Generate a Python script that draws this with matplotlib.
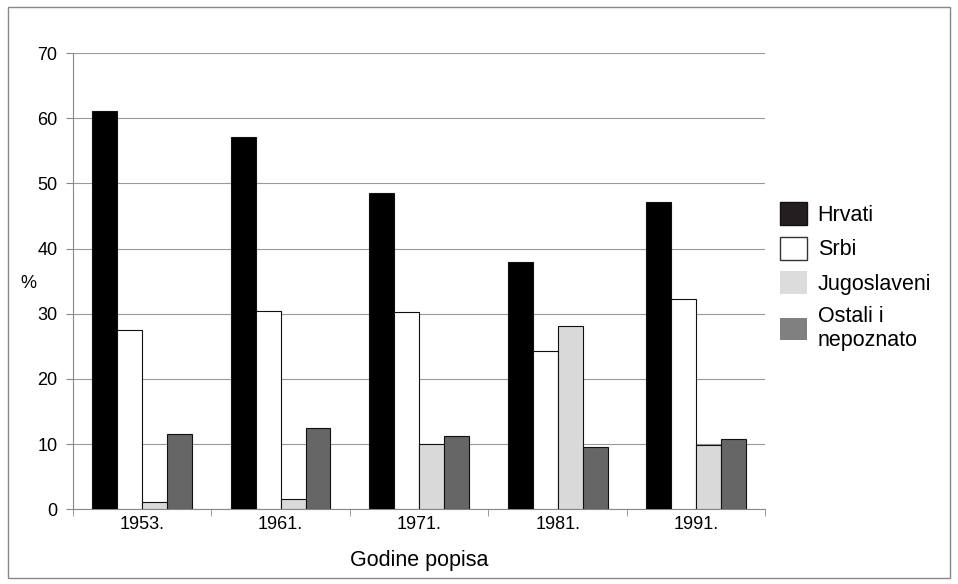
import numpy as np
import matplotlib.pyplot as plt
from matplotlib.patches import Rectangle, Patch

years = ["1953.", "1961.", "1971.", "1981.", "1991."]
hrvati = [61.1, 57.2, 48.6, 38.0, 47.2]
srbi = [27.5, 30.5, 30.2, 24.3, 32.3]
jugoslaveni = [1.1, 1.5, 10.0, 28.2, 9.8]
ostali = [11.5, 12.4, 11.2, 9.6, 10.8]

# name, values, bar colour, legend colour, legend edge
series = [
	("Hrvati", hrvati, "#000000", "#231f20", "#111111"),
	("Srbi", srbi, "#ffffff", "#ffffff", "#333333"),
	("Jugoslaveni", jugoslaveni, "#d9d9d9", "#dcdcdc", "none"),
	("Ostali i\nnepoznato", ostali, "#666666", "#808080", "none"),
]

plt.rcParams['font.family'] = ['Liberation Sans', 'DejaVu Sans']

fig = plt.figure(figsize=(9.58, 5.84), dpi=100)
fig.patches.append(Rectangle((0.008, 0.01), 0.984, 0.978, transform=fig.transFigure,
	fill=False, edgecolor="#888888", linewidth=1.0))
ax = fig.add_axes([0.076, 0.128, 0.723, 0.781])

x = np.arange(len(years))
w = 0.18
handles = []
for i, (name, vals, col, lcol, ledge) in enumerate(series):
	ax.bar(x + (i - 1.5) * w, vals, w, color=col, edgecolor="#111111", linewidth=0.8, zorder=3)
	handles.append(Patch(facecolor=lcol, edgecolor=ledge, linewidth=1.0, label=name))

ax.set_xlim(-0.5, len(years) - 0.5)
ax.set_ylim(0, 70)
ax.set_yticks(range(0, 71, 10))
ax.yaxis.grid(True, color="#999999", linewidth=0.8, zorder=0)
ax.set_xticks(x)
ax.set_xticklabels(years, fontsize=13)
ax.tick_params(axis='x', length=0, pad=5)
ax.set_xticks(np.arange(-0.5, len(years) + 0.5, 1), minor=True)
ax.tick_params(axis='x', which='minor', length=5, color="#888888")
ax.tick_params(axis='y', labelsize=13, length=5, color="#888888", pad=6)
for s in ["top", "right"]:
	ax.spines[s].set_visible(False)
for s in ["left", "bottom"]:
	ax.spines[s].set_color("#888888")

ax.set_xlabel("Godine popisa", fontsize=15.5, labelpad=12)
fig.text(0.021, 0.515, "%", fontsize=13, ha="left", va="center")

leg = ax.legend(handles=handles, loc="center left", bbox_to_anchor=(0.993, 0.51), frameon=False,
	fontsize=15.5, handlelength=1.25, handleheight=1.25, handletextpad=0.5, labelspacing=0.5)

fig.savefig("out.png", dpi=100)
